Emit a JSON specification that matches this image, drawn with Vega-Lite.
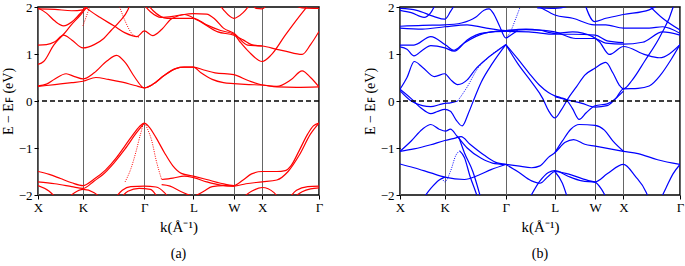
{
"$schema": "https://vega.github.io/schema/vega-lite/v6.json",
"padding": {"left": 0, "top": 0, "right": 0, "bottom": 0},
"spacing": 38,
"config": {
  "view": {"stroke": "black", "strokeWidth": 1.5},
  "font": "Liberation Serif",
  "axis": {"labelFont": "Liberation Serif", "titleFont": "Liberation Serif", "labelColor": "black", "titleColor": "black", "titleFontWeight": "normal", "labelFontSize": 13, "titleFontSize": 14, "tickColor": "black", "tickSize": 4, "domain": false},
  "title": {"font": "Liberation Serif", "fontSize": 14, "fontWeight": "normal", "color": "black"}
},
"datasets": {
"a": [
{"b":"c1","k":0,"e":0.32},{"b":"c1","k":0.03,"e":0.36},{"b":"c1","k":0.06,"e":0.47},{"b":"c1","k":0.1,"e":0.58},{"b":"c1","k":0.13,"e":0.52},{"b":"c1","k":0.16,"e":0.47},{"b":"c1","k":0.2,"e":0.6},{"b":"c1","k":0.245,"e":0.85},{"b":"c1","k":0.28,"e":0.97},{"b":"c1","k":0.31,"e":0.82},{"b":"c1","k":0.345,"e":0.5},{"b":"c1","k":0.378,"e":0.28},{"b":"c1","k":0.41,"e":0.36},{"b":"c1","k":0.45,"e":0.55},{"b":"c1","k":0.49,"e":0.69},{"b":"c1","k":0.52,"e":0.72},{"b":"c1","k":0.553,"e":0.72},{"b":"c1","k":0.59,"e":0.66},{"b":"c1","k":0.63,"e":0.6},{"b":"c1","k":0.697,"e":0.56},{"b":"c1","k":0.75,"e":0.43},{"b":"c1","k":0.798,"e":0.34},{"b":"c1","k":0.85,"e":0.31},{"b":"c1","k":0.9,"e":0.45},{"b":"c1","k":0.94,"e":0.64},{"b":"c1","k":0.97,"e":0.5},{"b":"c1","k":1,"e":0.3},
{"b":"c2","k":0,"e":0.31},{"b":"c2","k":0.06,"e":0.35},{"b":"c2","k":0.12,"e":0.39},{"b":"c2","k":0.16,"e":0.42},{"b":"c2","k":0.206,"e":0.5},{"b":"c2","k":0.25,"e":0.46},{"b":"c2","k":0.3,"e":0.4},{"b":"c2","k":0.345,"e":0.33},{"b":"c2","k":0.378,"e":0.28},{"b":"c2","k":0.41,"e":0.36},{"b":"c2","k":0.45,"e":0.55},{"b":"c2","k":0.49,"e":0.69},{"b":"c2","k":0.52,"e":0.72},{"b":"c2","k":0.553,"e":0.72},{"b":"c2","k":0.58,"e":0.6},{"b":"c2","k":0.62,"e":0.46},{"b":"c2","k":0.66,"e":0.39},{"b":"c2","k":0.697,"e":0.37},{"b":"c2","k":0.75,"e":0.35},{"b":"c2","k":0.798,"e":0.34},{"b":"c2","k":0.85,"e":0.3},{"b":"c2","k":0.92,"e":0.29},{"b":"c2","k":1,"e":0.3},
{"b":"u1","k":0,"e":0.78},{"b":"u1","k":0.02,"e":0.84},{"b":"u1","k":0.056,"e":1.19},{"b":"u1","k":0.091,"e":1.42},{"b":"u1","k":0.12,"e":1.63},{"b":"u1","k":0.151,"e":1.83},{"b":"u1","k":0.174,"e":2},{"b":"u1","k":0.185,"e":2.1},
{"b":"u2","k":0,"e":1.19},{"b":"u2","k":0.03,"e":1.2},{"b":"u2","k":0.06,"e":1.26},{"b":"u2","k":0.091,"e":1.4},{"b":"u2","k":0.12,"e":1.3},{"b":"u2","k":0.16,"e":1.13},{"b":"u2","k":0.2,"e":1.2},{"b":"u2","k":0.234,"e":1.33},{"b":"u2","k":0.26,"e":1.5},{"b":"u2","k":0.29,"e":1.69},{"b":"u2","k":0.32,"e":1.94},{"b":"u2","k":0.33,"e":2.1},
{"b":"u3","k":0,"e":1.98},{"b":"u3","k":0.03,"e":1.87},{"b":"u3","k":0.06,"e":1.7},{"b":"u3","k":0.091,"e":1.6},{"b":"u3","k":0.12,"e":1.68},{"b":"u3","k":0.145,"e":1.83},{"b":"u3","k":0.16,"e":1.93},{"b":"u3","k":0.175,"e":2.1},
{"b":"u4","k":0,"e":1.96},{"b":"u4","k":0.06,"e":1.95},{"b":"u4","k":0.12,"e":1.92},{"b":"u4","k":0.16,"e":1.94},{"b":"u4","k":0.19,"e":2.1},
{"b":"u5","k":0.15,"e":2.1},{"b":"u5","k":0.174,"e":1.97},{"b":"u5","k":0.22,"e":1.78},{"b":"u5","k":0.27,"e":1.6},{"b":"u5","k":0.31,"e":1.45},{"b":"u5","k":0.352,"e":1.37},{"b":"u5","k":0.378,"e":1.49},{"b":"u5","k":0.408,"e":1.39},{"b":"u5","k":0.44,"e":1.52},{"b":"u5","k":0.473,"e":1.74},{"b":"u5","k":0.52,"e":1.84},{"b":"u5","k":0.553,"e":1.86},{"b":"u5","k":0.6,"e":1.85},{"b":"u5","k":0.63,"e":1.74},{"b":"u5","k":0.66,"e":1.55},{"b":"u5","k":0.697,"e":1.44},{"b":"u5","k":0.746,"e":1.19},{"b":"u5","k":0.798,"e":1.17},{"b":"u5","k":0.85,"e":1.1},{"b":"u5","k":0.88,"e":1.06},{"b":"u5","k":0.94,"e":0.99},{"b":"u5","k":0.97,"e":1.2},{"b":"u5","k":1,"e":1.48},
{"b":"u6","k":0.385,"e":2.1},{"b":"u6","k":0.41,"e":1.92},{"b":"u6","k":0.46,"e":1.76},{"b":"u6","k":0.51,"e":1.76},{"b":"u6","k":0.553,"e":1.76},{"b":"u6","k":0.6,"e":1.62},{"b":"u6","k":0.65,"e":1.5},{"b":"u6","k":0.697,"e":1.42},{"b":"u6","k":0.72,"e":1.25},{"b":"u6","k":0.75,"e":1.05},{"b":"u6","k":0.798,"e":0.84},{"b":"u6","k":0.83,"e":0.98},{"b":"u6","k":0.88,"e":1.4},{"b":"u6","k":0.93,"e":1.8},{"b":"u6","k":0.97,"e":2.1},
{"b":"u7","k":0.37,"e":2.1},{"b":"u7","k":0.4,"e":1.9},{"b":"u7","k":0.438,"e":1.78},{"b":"u7","k":0.48,"e":1.8},{"b":"u7","k":0.52,"e":1.84},{"b":"u7","k":0.568,"e":1.72},{"b":"u7","k":0.64,"e":1.47},{"b":"u7","k":0.697,"e":1.4},{"b":"u7","k":0.73,"e":1.3},{"b":"u7","k":0.76,"e":1.2},{"b":"u7","k":0.798,"e":1.17},
{"b":"u8","k":0.64,"e":2.1},{"b":"u8","k":0.66,"e":1.94},{"b":"u8","k":0.697,"e":1.76},{"b":"u8","k":0.73,"e":1.88},{"b":"u8","k":0.76,"e":2.1},
{"b":"u9","k":0.76,"e":2.1},{"b":"u9","k":0.776,"e":1.97},{"b":"u9","k":0.798,"e":1.96},{"b":"u9","k":0.82,"e":2.1},
{"b":"u10","k":0.9,"e":2.1},{"b":"u10","k":0.94,"e":1.98},{"b":"u10","k":1,"e":1.97},
{"b":"v1","k":0,"e":-1.5},{"b":"v1","k":0.04,"e":-1.56},{"b":"v1","k":0.08,"e":-1.65},{"b":"v1","k":0.12,"e":-1.74},{"b":"v1","k":0.16,"e":-1.8},{"b":"v1","k":0.2,"e":-1.66},{"b":"v1","k":0.24,"e":-1.47},{"b":"v1","k":0.28,"e":-1.2},{"b":"v1","k":0.31,"e":-0.95},{"b":"v1","k":0.34,"e":-0.7},{"b":"v1","k":0.36,"e":-0.55},{"b":"v1","k":0.378,"e":-0.47},{"b":"v1","k":0.395,"e":-0.55},{"b":"v1","k":0.42,"e":-0.78},{"b":"v1","k":0.45,"e":-1.1},{"b":"v1","k":0.48,"e":-1.38},{"b":"v1","k":0.51,"e":-1.54},{"b":"v1","k":0.553,"e":-1.6},{"b":"v1","k":0.6,"e":-1.67},{"b":"v1","k":0.65,"e":-1.75},{"b":"v1","k":0.697,"e":-1.8},{"b":"v1","k":0.73,"e":-1.68},{"b":"v1","k":0.76,"e":-1.55},{"b":"v1","k":0.798,"e":-1.5},{"b":"v1","k":0.85,"e":-1.5},{"b":"v1","k":0.88,"e":-1.48},{"b":"v1","k":0.9,"e":-1.38},{"b":"v1","k":0.93,"e":-1.05},{"b":"v1","k":0.96,"e":-0.7},{"b":"v1","k":0.98,"e":-0.53},{"b":"v1","k":1,"e":-0.47},
{"b":"v2","k":0,"e":-1.72},{"b":"v2","k":0.06,"e":-1.76},{"b":"v2","k":0.12,"e":-1.82},{"b":"v2","k":0.16,"e":-1.86},{"b":"v2","k":0.2,"e":-1.7},{"b":"v2","k":0.23,"e":-1.57},{"b":"v2","k":0.27,"e":-1.32},{"b":"v2","k":0.31,"e":-1.02},{"b":"v2","k":0.35,"e":-0.68},{"b":"v2","k":0.378,"e":-0.47},
{"b":"v3","k":0.44,"e":-1.67},{"b":"v3","k":0.48,"e":-1.64},{"b":"v3","k":0.52,"e":-1.6},{"b":"v3","k":0.553,"e":-1.63},{"b":"v3","k":0.6,"e":-1.72},{"b":"v3","k":0.65,"e":-1.79},{"b":"v3","k":0.697,"e":-1.81},{"b":"v3","k":0.74,"e":-1.76},{"b":"v3","k":0.798,"e":-1.72},{"b":"v3","k":0.85,"e":-1.68},{"b":"v3","k":0.89,"e":-1.5},{"b":"v3","k":0.93,"e":-1.15},{"b":"v3","k":0.97,"e":-0.7},{"b":"v3","k":1,"e":-0.47},
{"b":"lb1","k":0,"e":-1.8},{"b":"lb1","k":0.04,"e":-1.92},{"b":"lb1","k":0.07,"e":-2.1},
{"b":"lb2","k":0.1,"e":-2.1},{"b":"lb2","k":0.13,"e":-1.95},{"b":"lb2","k":0.16,"e":-1.88},{"b":"lb2","k":0.2,"e":-1.95},{"b":"lb2","k":0.23,"e":-2.1},
{"b":"lb3","k":0.27,"e":-2.1},{"b":"lb3","k":0.3,"e":-1.9},{"b":"lb3","k":0.33,"e":-1.82},{"b":"lb3","k":0.378,"e":-1.81},{"b":"lb3","k":0.42,"e":-1.83},{"b":"lb3","k":0.45,"e":-1.95},{"b":"lb3","k":0.47,"e":-2.1},
{"b":"lb4","k":0.29,"e":-2.1},{"b":"lb4","k":0.32,"e":-1.92},{"b":"lb4","k":0.36,"e":-1.86},{"b":"lb4","k":0.4,"e":-1.88},{"b":"lb4","k":0.43,"e":-2.1},
{"b":"lb5","k":0.44,"e":-1.78},{"b":"lb5","k":0.47,"e":-1.81},{"b":"lb5","k":0.51,"e":-1.93},{"b":"lb5","k":0.553,"e":-2.02},{"b":"lb5","k":0.59,"e":-1.92},{"b":"lb5","k":0.62,"e":-1.82},{"b":"lb5","k":0.66,"e":-1.8},{"b":"lb5","k":0.697,"e":-1.81},
{"b":"lb6","k":0.72,"e":-2.1},{"b":"lb6","k":0.76,"e":-1.92},{"b":"lb6","k":0.798,"e":-1.84},{"b":"lb6","k":0.84,"e":-1.95},{"b":"lb6","k":0.86,"e":-2.1},
{"b":"lb7","k":0.89,"e":-2.1},{"b":"lb7","k":0.92,"e":-1.9},{"b":"lb7","k":0.96,"e":-1.82},{"b":"lb7","k":1,"e":-1.81},
{"b":"lb8","k":0.9,"e":-2.1},{"b":"lb8","k":0.94,"e":-1.93},{"b":"lb8","k":0.97,"e":-1.87},{"b":"lb8","k":1,"e":-1.85}
],
"ad": [
{"b":"d1","k":0.16,"e":1.6},{"b":"d1","k":0.175,"e":1.85},{"b":"d1","k":0.19,"e":2.1},
{"b":"d2","k":0.285,"e":2.1},{"b":"d2","k":0.31,"e":1.7},{"b":"d2","k":0.34,"e":1.4},{"b":"d2","k":0.36,"e":1.36},
{"b":"dv1","k":0.31,"e":-1.72},{"b":"dv1","k":0.33,"e":-1.45},{"b":"dv1","k":0.35,"e":-1.05},{"b":"dv1","k":0.365,"e":-0.7},{"b":"dv1","k":0.378,"e":-0.47},{"b":"dv1","k":0.39,"e":-0.6},{"b":"dv1","k":0.405,"e":-0.85},{"b":"dv1","k":0.42,"e":-1.25},{"b":"dv1","k":0.44,"e":-1.67}
],
"b": [
{"b":"RB1","k":0,"e":1.93},{"b":"RB1","k":0.04,"e":1.88},{"b":"RB1","k":0.086,"e":1.78},{"b":"RB1","k":0.11,"e":1.88},{"b":"RB1","k":0.13,"e":2.1},
{"b":"RB2","k":0,"e":1.97},{"b":"RB2","k":0.06,"e":1.93},{"b":"RB2","k":0.12,"e":1.8},{"b":"RB2","k":0.16,"e":1.74},{"b":"RB2","k":0.18,"e":1.9},{"b":"RB2","k":0.2,"e":2.1},
{"b":"RB3","k":0,"e":1.59},{"b":"RB3","k":0.08,"e":1.61},{"b":"RB3","k":0.16,"e":1.62},{"b":"RB3","k":0.22,"e":1.66},{"b":"RB3","k":0.27,"e":1.78},{"b":"RB3","k":0.3,"e":1.93},{"b":"RB3","k":0.318,"e":1.96},{"b":"RB3","k":0.335,"e":1.85},{"b":"RB3","k":0.355,"e":1.6},{"b":"RB3","k":0.378,"e":1.34},{"b":"RB3","k":0.395,"e":1.4},{"b":"RB3","k":0.42,"e":1.5},
{"b":"RB4","k":0,"e":1.55},{"b":"RB4","k":0.08,"e":1.53},{"b":"RB4","k":0.16,"e":1.58},{"b":"RB4","k":0.24,"e":1.62},{"b":"RB4","k":0.3,"e":1.56},{"b":"RB4","k":0.378,"e":1.5},{"b":"RB4","k":0.45,"e":1.52},{"b":"RB4","k":0.4975,"e":1.51},{"b":"RB4","k":0.553,"e":1.47},{"b":"RB4","k":0.628,"e":1.33},{"b":"RB4","k":0.694,"e":1.33},{"b":"RB4","k":0.735,"e":1.23},{"b":"RB4","k":0.798,"e":1.21},{"b":"RB4","k":0.866,"e":1.25},{"b":"RB4","k":0.938,"e":1.47},{"b":"RB4","k":1,"e":1.4},
{"b":"RB5","k":0,"e":1.19},{"b":"RB5","k":0.05,"e":1.19},{"b":"RB5","k":0.11,"e":1.37},{"b":"RB5","k":0.163,"e":1.19},{"b":"RB5","k":0.193,"e":1.08},{"b":"RB5","k":0.228,"e":1.23},{"b":"RB5","k":0.3,"e":1.44},{"b":"RB5","k":0.378,"e":1.5},{"b":"RB5","k":0.45,"e":1.53},{"b":"RB5","k":0.4975,"e":1.51},{"b":"RB5","k":0.553,"e":1.44},{"b":"RB5","k":0.617,"e":1.47},{"b":"RB5","k":0.688,"e":1.37},{"b":"RB5","k":0.712,"e":1.26},{"b":"RB5","k":0.748,"e":0.99},{"b":"RB5","k":0.798,"e":1.16},{"b":"RB5","k":0.878,"e":0.98},{"b":"RB5","k":0.926,"e":0.92},{"b":"RB5","k":1,"e":1.2},
{"b":"RB6","k":0,"e":1.15},{"b":"RB6","k":0.025,"e":1.1},{"b":"RB6","k":0.05,"e":0.96},{"b":"RB6","k":0.08,"e":1.08},{"b":"RB6","k":0.11,"e":1.18},{"b":"RB6","k":0.16,"e":1.13},{"b":"RB6","k":0.194,"e":1.06},{"b":"RB6","k":0.24,"e":1.3},{"b":"RB6","k":0.3,"e":1.45},{"b":"RB6","k":0.378,"e":1.48},{"b":"RB6","k":0.46,"e":1.47},{"b":"RB6","k":0.553,"e":1.42},{"b":"RB6","k":0.62,"e":1.42},{"b":"RB6","k":0.697,"e":1.4},{"b":"RB6","k":0.74,"e":1.28},{"b":"RB6","k":0.798,"e":1.24},
{"b":"RBc","k":0.46,"e":2.1},{"b":"RBc","k":0.4975,"e":2.0},{"b":"RBc","k":0.553,"e":1.83},{"b":"RBc","k":0.617,"e":1.76},{"b":"RBc","k":0.694,"e":1.62},{"b":"RBc","k":0.735,"e":1.62},{"b":"RBc","k":0.798,"e":1.55},{"b":"RBc","k":0.89,"e":1.55},{"b":"RBc","k":0.938,"e":1.58},{"b":"RBc","k":1,"e":1.44},
{"b":"RBd","k":0.658,"e":2.1},{"b":"RBd","k":0.694,"e":1.69},{"b":"RBd","k":0.735,"e":1.76},{"b":"RBd","k":0.798,"e":1.84},{"b":"RBd","k":0.89,"e":1.94},{"b":"RBd","k":0.938,"e":2.1},
{"b":"RB7","k":0.878,"e":2.1},{"b":"RB7","k":0.938,"e":1.76},{"b":"RB7","k":1,"e":1.51},
{"b":"RBL","k":0.49,"e":1.98},{"b":"RBL","k":0.553,"e":1.97},{"b":"RBL","k":0.6,"e":2.02},{"b":"RBL","k":0.62,"e":2.1},
{"b":"RG","k":0,"e":0.25},{"b":"RG","k":0.025,"e":0.5},{"b":"RG","k":0.051,"e":0.84},{"b":"RG","k":0.08,"e":0.72},{"b":"RG","k":0.123,"e":0.52},{"b":"RG","k":0.16,"e":0.58},{"b":"RG","k":0.18,"e":0.46},{"b":"RG","k":0.206,"e":0.35},{"b":"RG","k":0.24,"e":0.45},{"b":"RG","k":0.27,"e":0.68},{"b":"RG","k":0.31,"e":0.9},{"b":"RG","k":0.35,"e":1.08},{"b":"RG","k":0.378,"e":1.2},
{"b":"N1","k":0,"e":0.25},{"b":"N1","k":0.04,"e":0.05},{"b":"N1","k":0.075,"e":-0.15},{"b":"N1","k":0.11,"e":-0.27},{"b":"N1","k":0.135,"e":-0.22},{"b":"N1","k":0.16,"e":-0.18},{"b":"N1","k":0.18,"e":-0.22},{"b":"N1","k":0.2,"e":-0.4},{"b":"N1","k":0.222,"e":-0.53},{"b":"N1","k":0.245,"e":-0.25},{"b":"N1","k":0.265,"e":0.05},{"b":"N1","k":0.29,"e":0.4},{"b":"N1","k":0.33,"e":0.8},{"b":"N1","k":0.378,"e":1.2},
{"b":"N2","k":0,"e":0.22},{"b":"N2","k":0.04,"e":0.0},{"b":"N2","k":0.08,"e":-0.1},{"b":"N2","k":0.11,"e":-0.12},{"b":"N2","k":0.14,"e":-0.08},{"b":"N2","k":0.16,"e":-0.05},{"b":"N2","k":0.18,"e":-0.04},{"b":"N2","k":0.206,"e":0.0},
{"b":"Re1","k":0.378,"e":1.2},{"b":"Re1","k":0.42,"e":0.9},{"b":"Re1","k":0.46,"e":0.6},{"b":"Re1","k":0.4975,"e":0.34},{"b":"Re1","k":0.53,"e":0.18},{"b":"Re1","k":0.553,"e":0.11},{"b":"Re1","k":0.575,"e":0.07},{"b":"Re1","k":0.593,"e":0.03},{"b":"Re1","k":0.615,"e":-0.15},{"b":"Re1","k":0.64,"e":-0.39},{"b":"Re1","k":0.665,"e":-0.25},{"b":"Re1","k":0.697,"e":-0.1},{"b":"Re1","k":0.74,"e":-0.06},{"b":"Re1","k":0.77,"e":0.05},{"b":"Re1","k":0.798,"e":0.26},{"b":"Re1","k":0.85,"e":0.27},{"b":"Re1","k":0.89,"e":0.32},{"b":"Re1","k":0.93,"e":0.55},{"b":"Re1","k":0.97,"e":0.9},{"b":"Re1","k":1,"e":1.2},
{"b":"Re2","k":0.378,"e":1.2},{"b":"Re2","k":0.42,"e":0.8},{"b":"Re2","k":0.47,"e":0.4},{"b":"Re2","k":0.51,"e":0.05},{"b":"Re2","k":0.53,"e":-0.2},{"b":"Re2","k":0.553,"e":-0.36},{"b":"Re2","k":0.575,"e":-0.2},{"b":"Re2","k":0.6,"e":0.05},{"b":"Re2","k":0.63,"e":0.3},{"b":"Re2","k":0.66,"e":0.55},{"b":"Re2","k":0.697,"e":0.7},{"b":"Re2","k":0.735,"e":0.82},{"b":"Re2","k":0.76,"e":0.6},{"b":"Re2","k":0.783,"e":0.34},{"b":"Re2","k":0.798,"e":0.26},{"b":"Re2","k":0.83,"e":0.45},{"b":"Re2","k":0.873,"e":0.84},{"b":"Re2","k":0.932,"e":1.41},{"b":"Re2","k":0.975,"e":1.99},{"b":"Re2","k":0.98,"e":2.1},
{"b":"Re3","k":0.553,"e":0.09},{"b":"Re3","k":0.6,"e":0.02},{"b":"Re3","k":0.65,"e":-0.05},{"b":"Re3","k":0.697,"e":-0.13},{"b":"Re3","k":0.74,"e":-0.1},{"b":"Re3","k":0.77,"e":0.05},{"b":"Re3","k":0.798,"e":0.21},
{"b":"M2","k":0,"e":-1.07},{"b":"M2","k":0.04,"e":-0.85},{"b":"M2","k":0.08,"e":-0.6},{"b":"M2","k":0.11,"e":-0.5},{"b":"M2","k":0.14,"e":-0.6},{"b":"M2","k":0.163,"e":-0.64},{"b":"M2","k":0.18,"e":-0.6},{"b":"M2","k":0.204,"e":-0.75},{"b":"M2","k":0.24,"e":-1.0},{"b":"M2","k":0.29,"e":-1.22},{"b":"M2","k":0.33,"e":-1.32},{"b":"M2","k":0.378,"e":-1.35},
{"b":"M1","k":0,"e":-1.07},{"b":"M1","k":0.05,"e":-1.02},{"b":"M1","k":0.11,"e":-0.93},{"b":"M1","k":0.16,"e":-0.84},{"b":"M1","k":0.19,"e":-0.8},{"b":"M1","k":0.218,"e":-0.76},{"b":"M1","k":0.25,"e":-0.92},{"b":"M1","k":0.3,"e":-1.15},{"b":"M1","k":0.34,"e":-1.3},{"b":"M1","k":0.378,"e":-1.35},
{"b":"M1c","k":0.21,"e":-0.77},{"b":"M1c","k":0.23,"e":-1.1},{"b":"M1c","k":0.26,"e":-1.5},{"b":"M1c","k":0.29,"e":-2.1},
{"b":"H","k":0.213,"e":-1.06},{"b":"H","k":0.23,"e":-1.2},{"b":"H","k":0.25,"e":-1.6},{"b":"H","k":0.27,"e":-1.93},{"b":"H","k":0.28,"e":-2.1},
{"b":"M3","k":0,"e":-1.34},{"b":"M3","k":0.05,"e":-1.42},{"b":"M3","k":0.11,"e":-1.53},{"b":"M3","k":0.16,"e":-1.62},{"b":"M3","k":0.23,"e":-1.67},{"b":"M3","k":0.28,"e":-1.58},{"b":"M3","k":0.325,"e":-1.46},{"b":"M3","k":0.378,"e":-1.35},
{"b":"M4","k":0.08,"e":-2.1},{"b":"M4","k":0.11,"e":-1.86},{"b":"M4","k":0.14,"e":-1.68},{"b":"M4","k":0.16,"e":-1.62},
{"b":"Rf1","k":0.378,"e":-1.35},{"b":"Rf1","k":0.42,"e":-1.38},{"b":"Rf1","k":0.47,"e":-1.42},{"b":"Rf1","k":0.5,"e":-1.38},{"b":"Rf1","k":0.53,"e":-1.2},{"b":"Rf1","k":0.553,"e":-1.1},{"b":"Rf1","k":0.59,"e":-0.88},{"b":"Rf1","k":0.62,"e":-0.82},{"b":"Rf1","k":0.66,"e":-0.92},{"b":"Rf1","k":0.697,"e":-0.96},{"b":"Rf1","k":0.75,"e":-1.02},{"b":"Rf1","k":0.798,"e":-1.07},{"b":"Rf1","k":0.85,"e":-1.12},{"b":"Rf1","k":0.92,"e":-1.25},{"b":"Rf1","k":1,"e":-1.35},
{"b":"Rf2","k":0.553,"e":-1.1},{"b":"Rf2","k":0.58,"e":-0.85},{"b":"Rf2","k":0.61,"e":-0.6},{"b":"Rf2","k":0.64,"e":-0.5},{"b":"Rf2","k":0.697,"e":-0.52},{"b":"Rf2","k":0.73,"e":-0.62},{"b":"Rf2","k":0.76,"e":-0.85},{"b":"Rf2","k":0.798,"e":-1.07},
{"b":"Rf3","k":0.378,"e":-1.35},{"b":"Rf3","k":0.42,"e":-1.5},{"b":"Rf3","k":0.47,"e":-1.7},{"b":"Rf3","k":0.5,"e":-1.75},{"b":"Rf3","k":0.53,"e":-1.6},{"b":"Rf3","k":0.553,"e":-1.5},{"b":"Rf3","k":0.6,"e":-1.55},{"b":"Rf3","k":0.65,"e":-1.65},{"b":"Rf3","k":0.697,"e":-1.72},{"b":"Rf3","k":0.74,"e":-1.55},{"b":"Rf3","k":0.798,"e":-1.35},{"b":"Rf3","k":0.84,"e":-1.6},{"b":"Rf3","k":0.88,"e":-1.95},{"b":"Rf3","k":0.89,"e":-2.1},
{"b":"Rf4","k":0.46,"e":-2.1},{"b":"Rf4","k":0.5,"e":-1.7},{"b":"Rf4","k":0.53,"e":-1.52},{"b":"Rf4","k":0.553,"e":-1.48},{"b":"Rf4","k":0.6,"e":-1.6},{"b":"Rf4","k":0.65,"e":-1.7},{"b":"Rf4","k":0.697,"e":-1.73},{"b":"Rf4","k":0.72,"e":-1.88},{"b":"Rf4","k":0.74,"e":-2.1},
{"b":"Rf5","k":0.553,"e":-1.5},{"b":"Rf5","k":0.58,"e":-1.75},{"b":"Rf5","k":0.6,"e":-2.1},
{"b":"Rf7","k":0.93,"e":-2.1},{"b":"Rf7","k":0.95,"e":-1.85},{"b":"Rf7","k":0.975,"e":-1.55},{"b":"Rf7","k":1,"e":-1.35}
],
"bd": [
{"b":"RBd1","k":0.378,"e":1.34},{"b":"RBd1","k":0.395,"e":1.48},{"b":"RBd1","k":0.41,"e":1.7},{"b":"RBd1","k":0.435,"e":2.1},
{"b":"N2d","k":0.206,"e":0.0},{"b":"N2d","k":0.24,"e":0.3},{"b":"N2d","k":0.276,"e":0.68},{"b":"N2d","k":0.32,"e":0.95},{"b":"N2d","k":0.378,"e":1.2},
{"b":"Hd","k":0.15,"e":-1.64},{"b":"Hd","k":0.16,"e":-1.72},{"b":"Hd","k":0.18,"e":-1.5},{"b":"Hd","k":0.2,"e":-1.15},{"b":"Hd","k":0.213,"e":-1.06}
],
"zero": [{"e": 0}]
},
"hconcat": [
{
 "width": 281, "height": 188,
 "title": {"text": "(a)", "orient": "bottom", "offset": 13},
 "layer": [
  {"data": {"name": "a"}, "mark": {"type": "line", "interpolate": "monotone", "clip": true, "color": "#ff0000", "strokeWidth": 1.2},
   "encoding": {
    "x": {"field": "k", "type": "quantitative", "scale": {"domain": [0, 1], "nice": false, "zero": false},
        "axis": {"values": [0, 0.16, 0.378, 0.553, 0.697, 0.798, 1], "labelExpr": "datum.value == 0 ? 'X' : datum.value == 0.16 ? 'K' : datum.value == 0.378 ? 'Γ' : datum.value == 0.553 ? 'L' : datum.value == 0.697 ? 'W' : datum.value == 0.798 ? 'X' : 'Γ'", "labelFlush": false, "labelOverlap": false, "labelBound": false, "grid": true, "gridColor": "#666666", "gridWidth": 1, "title": "k(Å⁻¹)", "titleFontSize": 15, "labelPadding": 2, "titlePadding": 5}},
    "y": {"field": "e", "type": "quantitative", "scale": {"domain": [-2, 2], "nice": false},
        "axis": {"values": [-2, -1, 0, 1, 2], "grid": false, "title": "E − Eꜰ (eV)", "labelPadding": 2, "titlePadding": 3, "labelFlush": false, "labelBound": false}},
    "detail": {"field": "b"}}},
  {"data": {"name": "ad"}, "mark": {"type": "line", "interpolate": "monotone", "clip": true, "color": "#ff0000", "strokeWidth": 1, "strokeDash": [1, 1.3]},
   "encoding": {"x": {"field": "k", "type": "quantitative"}, "y": {"field": "e", "type": "quantitative"}, "detail": {"field": "b"}}},
  {"data": {"name": "zero"}, "mark": {"type": "rule", "strokeDash": [5, 3], "color": "black", "strokeWidth": 1.3},
   "encoding": {"y": {"field": "e", "type": "quantitative"}}}
 ]
},
{
 "width": 280, "height": 188,
 "title": {"text": "(b)", "orient": "bottom", "offset": 13},
 "layer": [
  {"data": {"name": "b"}, "mark": {"type": "line", "interpolate": "monotone", "clip": true, "color": "#0000ff", "strokeWidth": 1.2},
   "encoding": {
    "x": {"field": "k", "type": "quantitative", "scale": {"domain": [0, 1], "nice": false, "zero": false},
        "axis": {"values": [0, 0.16, 0.378, 0.553, 0.697, 0.798, 1], "labelExpr": "datum.value == 0 ? 'X' : datum.value == 0.16 ? 'K' : datum.value == 0.378 ? 'Γ' : datum.value == 0.553 ? 'L' : datum.value == 0.697 ? 'W' : datum.value == 0.798 ? 'X' : 'Γ'", "labelFlush": false, "labelOverlap": false, "labelBound": false, "grid": true, "gridColor": "#666666", "gridWidth": 1, "title": "k(Å⁻¹)", "titleFontSize": 15, "labelPadding": 2, "titlePadding": 5}},
    "y": {"field": "e", "type": "quantitative", "scale": {"domain": [-2, 2], "nice": false},
        "axis": {"values": [-2, -1, 0, 1, 2], "grid": false, "title": "E − Eꜰ (eV)", "labelPadding": 2, "titlePadding": 3, "labelFlush": false, "labelBound": false}},
    "detail": {"field": "b"}}},
  {"data": {"name": "bd"}, "mark": {"type": "line", "interpolate": "monotone", "clip": true, "color": "#0000ff", "strokeWidth": 1, "strokeDash": [1, 1.3]},
   "encoding": {"x": {"field": "k", "type": "quantitative"}, "y": {"field": "e", "type": "quantitative"}, "detail": {"field": "b"}}},
  {"data": {"name": "zero"}, "mark": {"type": "rule", "strokeDash": [5, 3], "color": "black", "strokeWidth": 1.3},
   "encoding": {"y": {"field": "e", "type": "quantitative"}}}
 ]
}
]
}
